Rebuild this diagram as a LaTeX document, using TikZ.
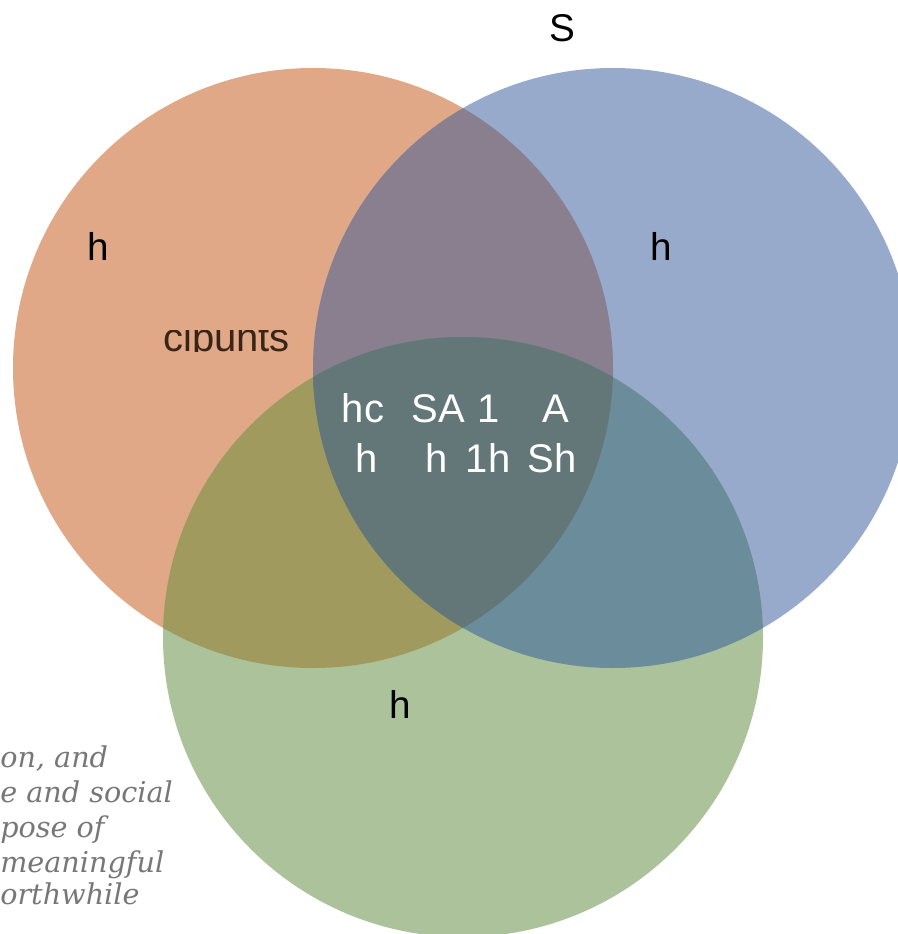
\documentclass[tikz,border=0pt]{standalone}
\usepackage{fontspec}
\setmainfont{Liberation Sans}
\newfontfamily\quotefont{DejaVu Serif}
\definecolor{orangeset}{HTML}{E0A886}
\definecolor{blueset}{HTML}{97AACB}
\definecolor{greenset}{HTML}{ABC29A}
\definecolor{orangeblue}{HTML}{8A7F8F}
\definecolor{orangegreen}{HTML}{A19A5E}
\definecolor{bluegreen}{HTML}{6A8C9B}
\definecolor{allsets}{HTML}{637678}
\definecolor{quotegrey}{HTML}{777777}
\definecolor{cutbrown}{HTML}{3A2418}
\begin{document}
\begin{tikzpicture}[x=0.75pt,y=-0.75pt,
		setlabel/.style={anchor=base,inner sep=0pt,font=\fontsize{29}{34}\selectfont},
		innerlabel/.style={anchor=base,inner sep=0pt,text=white,font=\fontsize{30}{34}\selectfont},
		quoteline/.style={anchor=base west,inner sep=0pt,text=quotegrey,font=\quotefont\itshape\fontsize{21.5}{26}\selectfont}]
			\useasboundingbox (0,0) rectangle (898,934);
			\clip (0,0) rectangle (898,934);
			\coordinate (orangec) at (313,368);
			\coordinate (bluec) at (613,368);
			\coordinate (greenc) at (463,637);
			\fill[orangeset] (orangec) circle[radius=300];
			\fill[blueset] (bluec) circle[radius=300];
			\fill[greenset] (greenc) circle[radius=300];
			\begin{scope}
				\clip (orangec) circle[radius=300];
				\fill[orangeblue] (bluec) circle[radius=300];
				\fill[orangegreen] (greenc) circle[radius=300];
				\clip (bluec) circle[radius=300];
				\fill[allsets] (greenc) circle[radius=300];
			\end{scope}
			\begin{scope}
				\clip (bluec) circle[radius=300];
				\clip (greenc) circle[radius=300];
				\fill[bluegreen] (orangec) ++(-400,-400) rectangle (898,934);
			\end{scope}
			\begin{scope}
				\clip (orangec) circle[radius=300];
				\clip (bluec) circle[radius=300];
				\fill[allsets] (greenc) circle[radius=300];
			\end{scope}
			\node[setlabel] (stitle) at (562,42) {S};
			\node[setlabel] (horange) at (98,260) {h};
			\node[setlabel] (hblue) at (661,260) {h};
			\node[setlabel] (hgreen) at (400,718) {h};
			\begin{scope}
				\clip (150,330) rectangle (300,351);
				\node[anchor=base west,inner sep=0pt,text=cutbrown,font=\fontsize{30}{34}\selectfont] (cutword) at (163,351) {cipunts};
			\end{scope}
			\node[innerlabel] (hc) at (363,422) {hc};
			\node[innerlabel] (sa) at (438,422) {SA};
			\node[innerlabel] (one) at (489,422) {1};
			\node[innerlabel] (atop) at (556,422) {A};
			\node[innerlabel] (hleft) at (367,472) {h};
			\node[innerlabel] (hmid) at (437,472) {h};
			\node[innerlabel] (oneh) at (488,472) {1h};
			\node[innerlabel] (sh) at (552,472) {Sh};
			\node[quoteline] (qa) at (0,767) {on, and};
			\node[quoteline] (qb) at (0,802) {e and social};
			\node[quoteline] (qc) at (0,837) {pose of};
			\node[quoteline] (qd) at (0,872) {meaningful};
			\node[quoteline] (qe) at (0,904) {orthwhile};
		\end{tikzpicture}
\end{document}
